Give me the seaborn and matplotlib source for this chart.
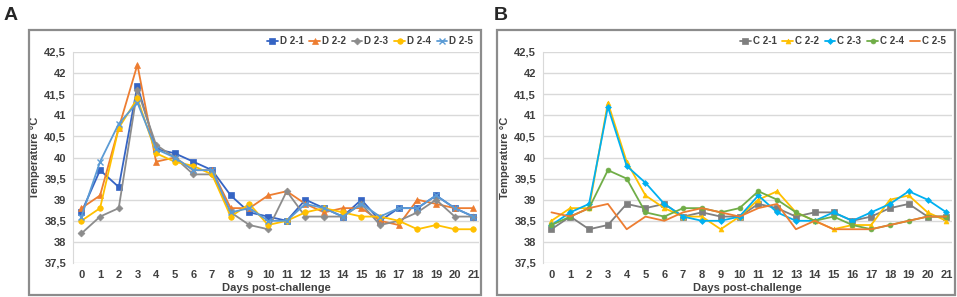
import numpy as np
import pandas as pd
import matplotlib
matplotlib.use('Agg')
import matplotlib.pyplot as plt
import seaborn as sns
from matplotlib.patches import Rectangle

# Days post-challenge
days = list(range(22))

# Panel A series
d21 = [38.7, 39.7, 39.3, 41.7, 40.2, 40.1, 39.9, 39.7, 39.1, 38.7, 38.6, 38.5, 39.0, 38.8, 38.6, 39.0, 38.5, 38.8, 38.8, 39.1, 38.8, 38.6]
d22 = [38.8, 39.1, 40.7, 42.2, 39.9, 40.0, 39.7, 39.7, 38.8, 38.8, 39.1, 39.2, 38.9, 38.7, 38.8, 38.8, 38.5, 38.4, 39.0, 38.9, 38.8, 38.8]
d23 = [38.2, 38.6, 38.8, 41.6, 40.3, 40.0, 39.6, 39.6, 38.7, 38.4, 38.3, 39.2, 38.6, 38.6, 38.6, 38.9, 38.4, 38.5, 38.7, 39.0, 38.6, 38.6]
d24 = [38.5, 38.8, 40.7, 41.4, 40.1, 39.9, 39.8, 39.6, 38.6, 38.9, 38.4, 38.5, 38.7, 38.8, 38.7, 38.6, 38.6, 38.5, 38.3, 38.4, 38.3, 38.3]
d25 = [38.6, 39.9, 40.8, 41.3, 40.2, 40.0, 39.7, 39.7, 38.7, 38.8, 38.5, 38.5, 38.9, 38.8, 38.6, 38.9, 38.6, 38.8, 38.8, 39.1, 38.8, 38.6]
names_a = ['D 2-1', 'D 2-2', 'D 2-3', 'D 2-4', 'D 2-5']

# Panel B series
c21 = [38.3, 38.6, 38.3, 38.4, 38.9, 38.8, 38.9, 38.6, 38.7, 38.6, 38.6, 38.9, 38.8, 38.6, 38.7, 38.7, 38.5, 38.6, 38.8, 38.9, 38.6, 38.6]
c22 = [38.5, 38.8, 38.8, 41.3, 39.9, 39.1, 38.8, 38.6, 38.6, 38.3, 38.6, 39.0, 39.2, 38.7, 38.5, 38.3, 38.4, 38.4, 39.0, 39.1, 38.7, 38.5]
c23 = [38.4, 38.7, 38.9, 41.2, 39.8, 39.4, 38.9, 38.6, 38.5, 38.5, 38.6, 39.1, 38.7, 38.5, 38.5, 38.7, 38.5, 38.7, 38.9, 39.2, 39.0, 38.7]
c24 = [38.4, 38.6, 38.8, 39.7, 39.5, 38.7, 38.6, 38.8, 38.8, 38.7, 38.8, 39.2, 39.0, 38.7, 38.5, 38.6, 38.4, 38.3, 38.4, 38.5, 38.6, 38.6]
c25 = [38.7, 38.6, 38.8, 38.9, 38.3, 38.6, 38.5, 38.7, 38.8, 38.7, 38.6, 38.8, 38.9, 38.3, 38.5, 38.3, 38.3, 38.3, 38.4, 38.5, 38.6, 38.6]
names_b = ['C 2-1', 'C 2-2', 'C 2-3', 'C 2-4', 'C 2-5']

yticks = [37.5, 38, 38.5, 39, 39.5, 40, 40.5, 41, 41.5, 42, 42.5]

sns.set_style('white')
plt.rcParams['font.family'] = ['Liberation Sans', 'DejaVu Sans']

fig = plt.figure(figsize=(9.57, 2.97), dpi=100)

# panel frames
for x0, x1 in [(29, 481), (497, 955)]:
    fig.patches.append(Rectangle((x0 / 957, 1 - 295 / 297), (x1 - x0) / 957, (295 - 30) / 297,
                                 transform=fig.transFigure, fill=False, edgecolor='#8c8c8c', lw=1.6))

ax_a = fig.add_axes([73 / 957, 1 - 263 / 297, (479 - 73) / 957, (263 - 52) / 297])
ax_b = fig.add_axes([543 / 957, 1 - 263 / 297, (952 - 543) / 957, (263 - 52) / 297])

style_a = [('#3564c4', 's', 4), ('#ED7D31', '^', 4.5), ('#8c8c8c', 'D', 3.5), ('#FFC000', 'o', 4), ('#5B9BD5', 'x', 4)]
style_b = [('#7F7F7F', 's', 4), ('#FFC000', '^', 3.5), ('#00B0F0', 'D', 3), ('#70AD47', 'o', 3.5), ('#ED7D31', None, 0)]


def draw(ax, series, names, styles):
    for vals, name, (col, mk, ms) in zip(series, names, styles):
        sns.lineplot(x=days, y=vals, ax=ax, color=col, marker=mk, markersize=ms,
                     markeredgecolor=col, markeredgewidth=1 if mk == 'x' else 0.5,
                     lw=1.3, label=name)
    ax.set_xlim(-0.45, 21.3)
    ax.set_ylim(37.5, 42.5)
    ax.set_yticks(yticks)
    ax.set_yticklabels([f'{v:g}'.replace('.', ',') for v in yticks])
    ax.set_xticks(days)
    ax.grid(axis='y', color='#d9d9d9', lw=1)
    ax.set_axisbelow(True)
    for s in ['top', 'right', 'bottom']:
        ax.spines[s].set_visible(False)
    ax.spines['left'].set_color('#d9d9d9')
    ax.tick_params(length=0, labelsize=8, colors='#404040', pad=5)
    for lab in ax.get_xticklabels() + ax.get_yticklabels():
        lab.set_fontweight('bold')
    ax.set_xlabel('Days post-challenge', fontsize=8, fontweight='bold', color='#404040', labelpad=2)
    ax.set_ylabel('Temperature °C', fontsize=8, fontweight='bold', color='#404040', labelpad=3)
    leg = ax.legend(ncol=5, loc='lower right', bbox_to_anchor=(1.0, 1.0), frameon=False,
                    handlelength=1.1, handletextpad=0.2, columnspacing=0.6,
                    borderaxespad=0.2, prop={'weight': 'bold', 'size': 7})
    for t in leg.get_texts():
        t.set_color('#404040')


draw(ax_a, [d21, d22, d23, d24, d25], names_a, style_a)
draw(ax_b, [c21, c22, c23, c24, c25], names_b, style_b)

fig.text(4 / 957, 1 - 16 / 297, 'A', fontsize=14, fontweight='bold', va='center')
fig.text(494 / 957, 1 - 16 / 297, 'B', fontsize=14, fontweight='bold', va='center')

fig.savefig('out.png', dpi=100)
